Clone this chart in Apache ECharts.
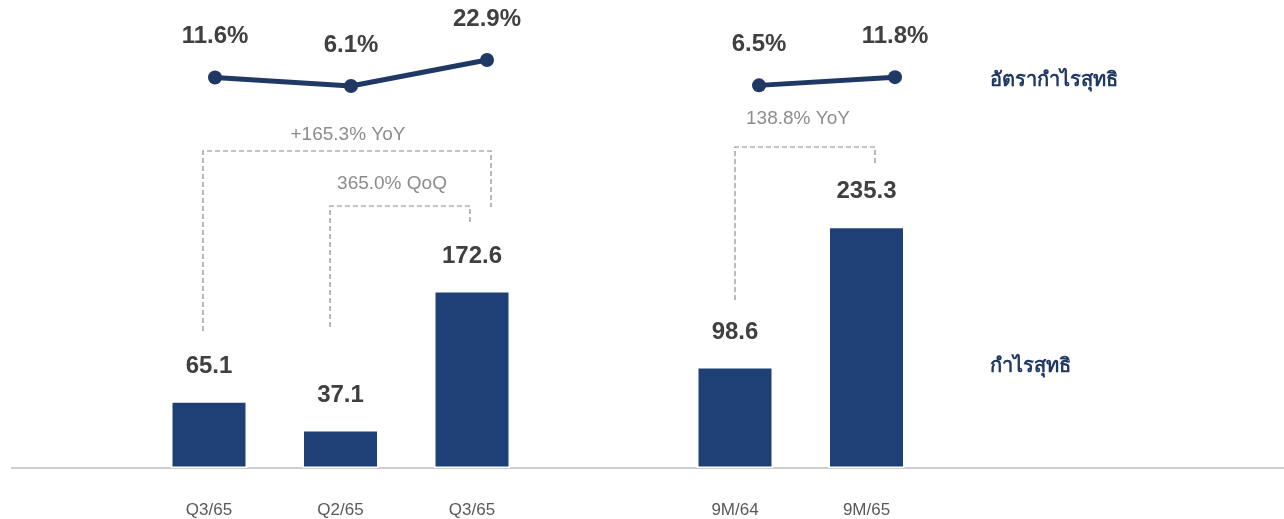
<!DOCTYPE html>
<html>
<head>
<meta charset="utf-8">
<script src="https://cdn.jsdelivr.net/npm/echarts@6/dist/echarts.min.js"></script>
<style>
    html, body { margin: 0; padding: 0; background: #fff; }
    #main { width: 1284px; height: 519px; }
</style>
</head>
<body>
<div id="main"></div>
<script>
// 数据
var categories = ['Q3/65', 'Q2/65', 'Q3/65', '9M/64', '9M/65'];
var netProfit = [65.1, 37.1, 172.6, 98.6, 235.3];
var netMargin = [11.6, 6.1, 22.9, 6.5, 11.8];
// 每个类别在轴上的位置 (空位用于分组间隔)
var slots = [1, 2, 3, 5, 6];
var slotCount = 10;

function spread(values, blank) {
    var out = [];
    for (var i = 0; i < slotCount; i++) {
        out.push(blank);
    }
    for (var j = 0; j < slots.length; j++) {
        out[slots[j]] = values[j];
    }
    return out;
}

var axisCats = spread(categories, '');
var barData = spread(netProfit, null);
var lineData = spread(netMargin, null);

var navy = '#1F3864';
var barColor = '#1F4077';
var labelColor = '#404040';
var noteColor = '#8C8C8C';
var fontFamily = '"Liberation Sans", Arial, sans-serif';
var thaiFont = '"Noto Sans", "DejaVu Sans", sans-serif';

var chart = echarts.init(document.getElementById('main'));

// 虚线括号
function bracket(x1, y1, yTop, x2, y2) {
    return {
        type: 'polyline',
        silent: true,
        shape: { points: [[x1, y1], [x1, yTop], [x2, yTop], [x2, y2]] },
        style: { stroke: '#8A8A8A', lineWidth: 1.2, lineDash: [5, 3], fill: null }
    };
}

function note(text, x, y, color, size, font, align, weight) {
    return {
        type: 'text',
        silent: true,
        x: x,
        y: y,
        style: {
            text: text,
            fill: color,
            font: (weight || 'normal') + ' ' + size + 'px ' + font,
            align: align || 'center',
            verticalAlign: 'middle'
        }
    };
}

var option = {
    animation: false,
    backgroundColor: '#fff',
    grid: [
        // 柱状图
        { left: 11.75, width: 1315, top: 0, bottom: 51, outerBoundsMode: 'none' },
        // 折线图
        { left: 11, width: 1360, top: 0, height: 95.45, outerBoundsMode: 'none' }
    ],
    xAxis: [
        {
            type: 'category',
            gridIndex: 0,
            data: axisCats,
            axisLine: { lineStyle: { color: '#BFBFBF', width: 1.5 } },
            axisTick: { show: false },
            axisLabel: { color: '#595959', fontSize: 17, fontFamily: fontFamily, margin: 34, interval: 0 }
        },
        {
            type: 'category',
            gridIndex: 1,
            data: axisCats,
            show: false
        }
    ],
    yAxis: [
        { type: 'value', gridIndex: 0, min: 0, max: 456.6, show: false },
        { type: 'value', gridIndex: 1, min: 0, max: 61.58, show: false }
    ],
    series: [
        {
            name: 'กำไรสุทธิ',
            type: 'bar',
            xAxisIndex: 0,
            yAxisIndex: 0,
            barWidth: 76,
            data: barData,
            itemStyle: { color: barColor, borderColor: '#fff', borderWidth: 1.5 },
            label: {
                show: true,
                position: 'top',
                distance: 23,
                color: labelColor,
                fontSize: 24,
                fontWeight: 'bold',
                fontFamily: fontFamily
            }
        },
        {
            name: 'อัตรากำไรสุทธิ',
            type: 'line',
            xAxisIndex: 1,
            yAxisIndex: 1,
            data: lineData,
            connectNulls: false,
            symbol: 'circle',
            symbolSize: 14,
            lineStyle: { color: navy, width: 5 },
            itemStyle: { color: navy },
            label: {
                show: true,
                position: 'top',
                distance: 22,
                color: labelColor,
                fontSize: 24,
                fontWeight: 'bold',
                fontFamily: fontFamily,
                formatter: function (p) {
                    return p.value.toFixed(1) + '%';
                }
            }
        }
    ],
    graphic: [
        bracket(203, 331, 151, 491, 207),
        bracket(330, 327, 206, 470, 225),
        bracket(735, 300, 147, 875, 166),
        note('+165.3% YoY', 348, 135, noteColor, 19, fontFamily),
        note('365.0% QoQ', 392, 184, noteColor, 19, fontFamily),
        note('138.8% YoY', 798, 119, noteColor, 19, fontFamily),
        note('อัตรากำไรสุทธิ', 990, 80, navy, 20, thaiFont, 'left', 'bold'),
        note('กำไรสุทธิ', 990, 366, navy, 20, thaiFont, 'left', 'bold')
    ]
};

chart.setOption(option);
</script>
</body>
</html>
